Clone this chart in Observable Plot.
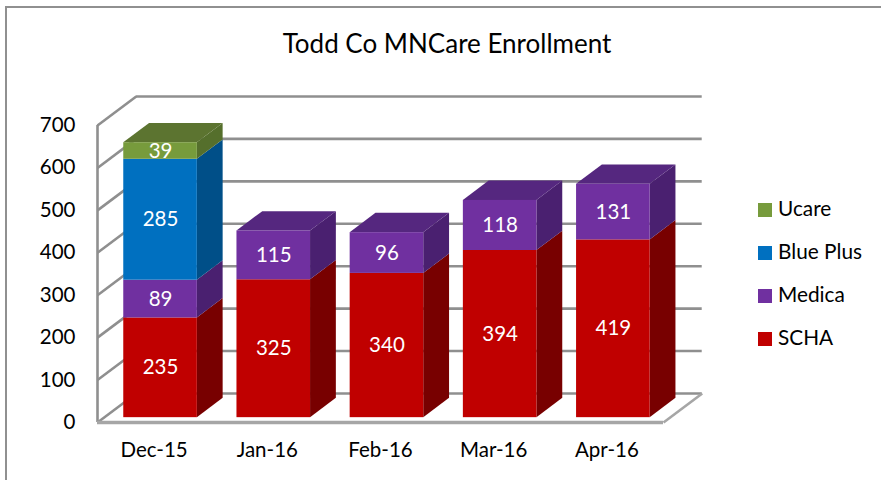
<!DOCTYPE html>
<html><head><meta charset="utf-8">
<script src="https://cdn.jsdelivr.net/npm/d3@7"></script>
<script src="https://cdn.jsdelivr.net/npm/@observablehq/plot@0.6"></script>
<style>
html,body{margin:0;padding:0;background:#fff;overflow:hidden}
#wrap{position:relative;width:881px;height:480px;font-family:Lato,sans-serif;color:#000}
#frame{position:absolute;left:5px;top:6px;right:-5px;bottom:-5px;border:2px solid #909090;box-sizing:border-box}
#title{position:absolute;left:0;top:27px;width:894px;text-align:center;font-size:26px;line-height:32px}
#legend{position:absolute;left:758px;top:195px}
.item{position:absolute;left:0;white-space:nowrap;font-size:20.8px;line-height:28px;height:28px}
.sw{position:absolute;left:0;top:8px;width:14px;height:14px}
.lb{position:absolute;left:20px;top:-1px}
svg{position:absolute;left:0;top:0}
</style></head><body><div id="wrap"><div id="frame"></div><div id="title">Todd Co MNCare Enrollment</div><div id="legend"></div></div>
<script>
const categories = ["Dec-15","Jan-16","Feb-16","Mar-16","Apr-16"];
const SCHA = [235,325,340,394,419];
const Medica = [89,115,96,118,131];
const BluePlus = [285,0,0,0,0];
const Ucare = [39,0,0,0,0];
const yTicks = [0,100,200,300,400,500,600,700];
const seriesNames = ["SCHA","Medica","Blue Plus","Ucare"];
const seriesValues = [SCHA,Medica,BluePlus,Ucare];
const frontColors = ["#c00000","#7030a0","#0070c0","#779b3c"];
const sideColors = ["#780000","#4a2070","#004f88","#556f2c"];
const topColors = ["#780000","#55277f","#004f88","#5c7430"];

// oblique projection, in data units
const DX = 0.342, DY = 68.4, barFront = 1/6, barBack = 5/6, barWidth = 0.65;
const fronts = [], sides = [], tops = [];
categories.forEach((c,i)=>{
  let base = 0, last = -1;
  seriesValues.forEach((vals,s)=>{ if (vals[i] > 0) last = s; });
  seriesValues.forEach((vals,s)=>{
    const v = vals[i];
    if (!(v > 0)) return;
    const x1 = i + 0.5 - barWidth/2, x2 = i + 0.5 + barWidth/2;
    fronts.push({x1:x1+barFront*DX, x2:x2+barFront*DX, y1:base+barFront*DY, y2:base+v+barFront*DY, fill:frontColors[s], v, xm:i+0.5+barFront*DX, ym:base+v/2+barFront*DY});
    const id = c+s;
    [barFront,barBack].forEach(d=>{
      sides.push({id, x:x2+d*DX, y1:base+d*DY, y2:base+v+d*DY, fill:sideColors[s]});
      if (s===last) tops.push({id, y:base+v+d*DY, x1:x1+d*DX, x2:x2+d*DX, fill:topColors[s]});
    });
    base += v;
  });
});

const gridColor = "#8f8f8f", gw = 2.6;
const plot = Plot.plot({
  width:881, height:480,
  marginLeft:97, marginRight:218, marginTop:125, marginBottom:58,
  style:{background:"transparent", fontFamily:"Lato, sans-serif", overflow:"visible"},
  x:{domain:[0,5], label:null},
  y:{domain:[0,700], label:null},
  marks:[
    // walls and floor
    Plot.ruleY(yTicks,{y:d=>d+DY, x1:DX, x2:5+DX, stroke:gridColor, strokeWidth:gw}),
    Plot.link(yTicks,{x1:0, x2:DX, y1:d=>d, y2:d=>d+DY, stroke:gridColor, strokeWidth:gw}),
    Plot.ruleX([0],{y1:0, y2:700, stroke:gridColor, strokeWidth:gw}),
    Plot.link([5],{x1:d=>d, x2:d=>d+DX, y1:0, y2:DY, stroke:"#a6a6a6", strokeWidth:gw}),
    Plot.ruleY([0],{x1:0, x2:5, stroke:"#a6a6a6", strokeWidth:gw+1}),
    // bars
    Plot.areaY(sides,{x:"x", y1:"y1", y2:"y2", z:"id", fill:"fill"}),
    Plot.areaX(tops,{y:"y", x1:"x1", x2:"x2", z:"id", fill:"fill"}),
    Plot.rect(fronts,{x1:"x1", x2:"x2", y1:"y1", y2:"y2", fill:"fill"}),
    Plot.text(fronts,{x:"xm", y:"ym", text:d=>String(d.v), fill:"#fff", fontSize:20.5}),
    // axes
    Plot.axisY({ticks:yTicks, tickSize:0, tickPadding:22, fontSize:20.5, label:null, anchor:"left", color:"#000"}),
    Plot.axisX({ticks:categories.map((_,i)=>i+0.5), tickFormat:t=>categories[Math.round(t-0.5)], tickSize:0, tickPadding:20, fontSize:20.5, label:null, anchor:"bottom"})
  ]
});
document.getElementById("wrap").appendChild(plot);

const legendNames = seriesNames.slice().reverse(), legendColors = frontColors.slice().reverse();
const leg = document.getElementById("legend");
legendNames.forEach((n,i)=>{
  const it = document.createElement("div"); it.className="item"; it.style.top=(i*43)+"px";
  it.innerHTML = `<span class="sw" style="background:${legendColors[i]}"></span><span class="lb">${n}</span>`;
  leg.appendChild(it);
});
</script></body></html>
